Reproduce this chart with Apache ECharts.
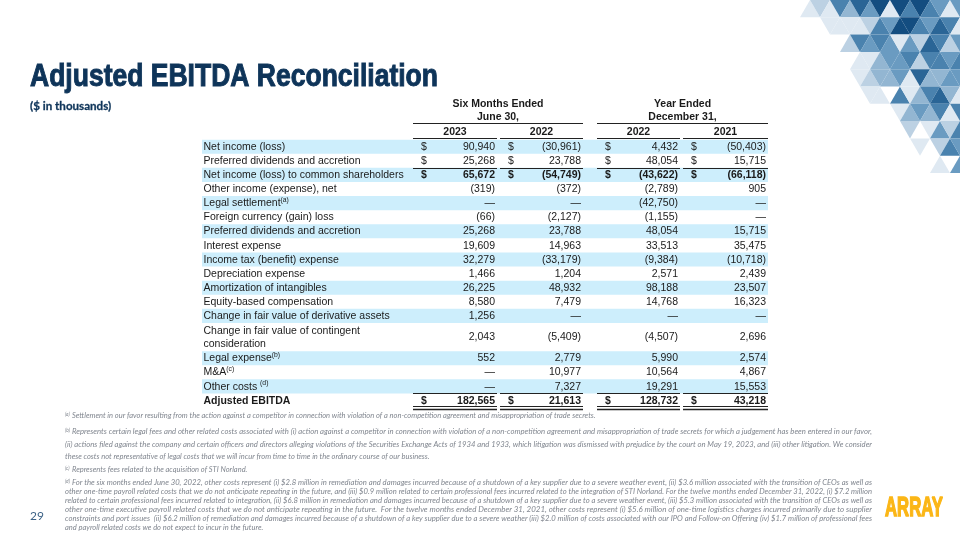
<!DOCTYPE html>
<html><head><meta charset="utf-8">
<script src="https://cdn.jsdelivr.net/npm/echarts@6/dist/echarts.min.js"></script>
<style>html,body{margin:0;padding:0;background:#fff}#c{width:960px;height:540px}</style>
</head><body><div id="c"></div>
<script>
// ---------------- DATA ----------------
const rowLabels = [
  'Net income (loss)',
  'Preferred dividends and accretion',
  'Net income (loss) to common shareholders',
  'Other income (expense), net',
  'Legal settlement',
  'Foreign currency (gain) loss',
  'Preferred dividends and accretion',
  'Interest expense',
  'Income tax (benefit) expense',
  'Depreciation expense',
  'Amortization of intangibles',
  'Equity-based compensation',
  'Change in fair value of derivative assets',
  'Change in fair value of contingent\nconsideration',
  'Legal expense',
  'M&A',
  'Other costs ',
  'Adjusted EBITDA'
];
const rowNotes = [null, null, null, null, '(a)', null, null, null, null, null, null, null, null, null, '(b)', '(c)', '(d)', null];
const rowLines = [1,1,1,1,1,1,1,1,1,1,1,1,1,2,1,1,1,1];
const dollarRows = [0, 1, 2, 17];
const subtotalRows = [2];
const totalRows = [17];
const periodLabels = [['Six Months Ended', 'June 30,'], ['Year Ended', 'December 31,']];
const yearLabels = ['2023', '2022', '2022', '2021'];
const sixMonths2023 = [90940, 25268, 65672, -319, null, -66, 25268, 19609, 32279, 1466, 26225, 8580, 1256, 2043, 552, null, null, 182565];
const sixMonths2022 = [-30961, 23788, -54749, -372, null, -2127, 23788, 14963, -33179, 1204, 48932, 7479, null, -5409, 2779, 10977, 7327, 21613];
const year2022 = [4432, 48054, -43622, -2789, -42750, -1155, 48054, 33513, -9384, 2571, 98188, 14768, null, -4507, 5990, 10564, 19291, 128732];
const year2021 = [-50403, 15715, -66118, 905, null, null, 15715, 35475, -10718, 2439, 23507, 16323, null, 2696, 2574, 4867, 15553, 43218];
const valueColumns = [sixMonths2023, sixMonths2022, year2022, year2021];

const titleText = 'Adjusted EBITDA Reconciliation';
const subtitleText = '($ in thousands)';
const pageNumber = '29';
const logoText = 'ARRAY';
const footnotes = [
  { mark: '(a)', lines: ['Settlement in our favor resulting from the action against a competitor in connection with violation of a non-competition agreement and misappropriation of trade secrets.'] },
  { mark: '(b)', lines: [
    'Represents certain legal fees and other related costs associated with (i) action against a competitor in connection with violation of a non-competition agreement and misappropriation of trade secrets for which a judgement has been entered in our favor,',
    '(ii) actions filed against the company and certain officers and directors alleging violations of the Securities Exchange Acts of 1934 and 1933, which litigation was dismissed with prejudice by the court on May 19, 2023, and (iii) other litigation. We consider',
    'these costs not representative of legal costs that we will incur from time to time in the ordinary course of our business.'] },
  { mark: '(c)', lines: ['Represents fees related to the acquisition of STI Norland.'] },
  { mark: '(d)', lines: [
    'For the six months ended June 30, 2022, other costs represent (i) $2.8 million in remediation and damages incurred because of a shutdown of a key supplier due to a severe weather event, (ii) $3.6 million associated with the transition of CEOs as well as',
    'other one-time payroll related costs that we do not anticipate repeating in the future, and (iii) $0.9 million related to certain professional fees incurred related to the integration of STI Norland. For the twelve months ended December 31, 2022, (i) $7.2 million',
    'related to certain professional fees incurred related to integration, (ii) $6.8 million in remediation and damages incurred because of a shutdown of a key supplier due to a severe weather event, (iii) $5.3 million associated with the transition of CEOs as well as',
    'other one-time executive payroll related costs that we do not anticipate repeating in the future.  For the twelve months ended December 31, 2021, other costs represent (i) $5.6 million of one-time logistics charges incurred primarily due to supplier',
    'constraints and port issues  (ii) $6.2 million of remediation and damages incurred because of a shutdown of a key supplier due to a severe weather (iii) $2.0 million of costs associated with our IPO and Follow-on Offering (iv) $1.7 million of professional fees',
    'and payroll related costs we do not expect to incur in the future.'] }
];

// ---------------- LAYOUT / STYLE ----------------
const FONT = '"Liberation Sans", Arial, sans-serif';
const NOTEFONT = 'Lato, "Open Sans", sans-serif';
const NAVY = '#0e3459';
const TXT = '#1a1a1a';
const BAND = '#cdeefc';
const FS = 10.5;
const colBounds = [[211, 295], [298, 381], [395, 478], [481, 566]]; // x-axis units
const footY = [416, 432, 444.5, 457, 470, 483, 492, 501, 510, 519, 528];
const footX = 65, footTextX = 72, footRight = 872;
const NOTESIZE = 7.5;

const starts = []; let acc = 0;
rowLines.forEach(n => { starts.push(acc); acc += n; });
const totalUnits = acc;

function fmt(v) {
  if (v == null) return '\u2014';
  const s = Math.abs(v).toLocaleString('en-US');
  return v < 0 ? '(' + s + ')' : s;
}

const chart = echarts.init(document.getElementById('c'), null, { renderer: 'canvas' });

function renderRow(params, api) {
  const i = params.dataIndex;
  const u0 = starts[i], n = rowLines[i];
  const top = api.coord([0, u0 - 0.5])[1];
  const bot = api.coord([0, u0 + n - 0.5])[1];
  const cy = (top + bot) / 2;
  const x0 = api.coord([0, 0])[0];
  const x1 = api.coord([566, 0])[0];
  const ch = [];
  if (i % 2 === 0) {
    ch.push({ type: 'rect', shape: { x: x0, y: top, width: x1 - x0, height: bot - top }, style: { fill: BAND } });
  }
  const isTotal = totalRows.includes(i);
  const isBold = isTotal || subtotalRows.includes(i);
  const lbl = rowNotes[i] ? rowLabels[i] + '{sup|' + rowNotes[i] + '}' : rowLabels[i];
  ch.push({ type: 'text', style: {
    x: x0 + 1.5, y: cy + 0.3, text: lbl, fill: TXT, fontFamily: FONT, fontSize: FS,
    fontWeight: isTotal ? 'bold' : 'normal', lineHeight: 13.3,
    align: 'left', verticalAlign: 'middle',
    rich: { sup: { fontSize: 6.8, fontFamily: FONT, fill: TXT, verticalAlign: 'top', lineHeight: 13.3, padding: [0, 0, 5, 0] } }
  } });
  valueColumns.forEach((col, c) => {
    const xr = api.coord([colBounds[c][1] - 2, 0])[0];
    ch.push({ type: 'text', style: {
      x: xr, y: cy + 0.3, text: fmt(col[i]), fill: TXT, fontFamily: FONT, fontSize: FS,
      fontWeight: isBold ? 'bold' : 'normal', align: 'right', verticalAlign: 'middle'
    } });
    if (dollarRows.includes(i)) {
      const xl = api.coord([colBounds[c][0] + 8, 0])[0];
      ch.push({ type: 'text', style: {
        x: xl, y: cy + 0.3, text: '$', fill: TXT, fontFamily: FONT, fontSize: FS,
        fontWeight: isBold ? 'bold' : 'normal', align: 'left', verticalAlign: 'middle'
      } });
    }
    const xa = api.coord([colBounds[c][0], 0])[0];
    const xb = api.coord([colBounds[c][1], 0])[0];
    if (isBold) {
      const yy = Math.round(top) + 0.5;
      ch.push({ type: 'line', shape: { x1: xa, y1: yy, x2: xb, y2: yy }, style: { stroke: '#222', lineWidth: 1 } });
    }
    if (isTotal) {
      const y1 = Math.round(bot) - 1.5, y2 = Math.round(bot) + 1.5;
      ch.push({ type: 'line', shape: { x1: xa, y1: y1, x2: xb, y2: y1 }, style: { stroke: '#222', lineWidth: 1.2 } });
      ch.push({ type: 'line', shape: { x1: xa, y1: y2, x2: xb, y2: y2 }, style: { stroke: '#222', lineWidth: 1.6 } });
    }
  });
  return { type: 'group', children: ch };
}

function renderYear(params, api) {
  const c = params.dataIndex;
  const xa = api.coord([colBounds[c][0], 0])[0];
  const xb = api.coord([colBounds[c][1], 0])[0];
  const cy = api.coord([0, -1.02])[1];
  const ly = Math.round(api.coord([0, -0.62])[1]) + 0.5;
  return { type: 'group', children: [
    { type: 'text', style: { x: (xa + xb) / 2, y: cy, text: yearLabels[c], fill: TXT, fontFamily: FONT, fontSize: FS, fontWeight: 'bold', align: 'center', verticalAlign: 'middle' } },
    { type: 'line', shape: { x1: xa, y1: ly, x2: xb, y2: ly }, style: { stroke: '#222', lineWidth: 1 } }
  ] };
}

function renderPeriod(params, api) {
  const g = params.dataIndex;
  const xa = api.coord([colBounds[2 * g][0], 0])[0];
  const xb = api.coord([colBounds[2 * g + 1][1], 0])[0];
  const y1 = api.coord([0, -3.03])[1];
  const y2 = api.coord([0, -2.13])[1];
  const ly = Math.round(api.coord([0, -1.66])[1]) + 0.5;
  return { type: 'group', children: [
    { type: 'text', style: { x: (xa + xb) / 2, y: y1, text: periodLabels[g][0], fill: TXT, fontFamily: FONT, fontSize: FS, fontWeight: 'bold', align: 'center', verticalAlign: 'middle' } },
    { type: 'text', style: { x: (xa + xb) / 2, y: y2, text: periodLabels[g][1], fill: TXT, fontFamily: FONT, fontSize: FS, fontWeight: 'bold', align: 'center', verticalAlign: 'middle' } },
    { type: 'line', shape: { x1: xa, y1: ly, x2: xb, y2: ly }, style: { stroke: '#222', lineWidth: 1 } }
  ] };
}

// text measurement for condensed title / justified notes
const mctx = document.createElement('canvas').getContext('2d');
function measure(font, text) { mctx.font = font; return mctx.measureText(text).width; }

const graphics = [];
// decorative triangle mosaic (top-right)
const TW = 20, TH = 17.3;
const shades = ['#dfe9f2', '#bcd1e3', '#93b6d2', '#6a9bc1', '#4a82ae', '#2a6596', '#134d80'];
for (let r = 0; r < 11; r++) {
  for (let k = 0; k < 22; k++) {
    const xs = 760 + k * TW / 2;
    const ya = r * TH, yb = ya + TH;
    const up = (k + r) % 2 === 0;
    const pts = up ? [[xs, yb], [xs + TW / 2, ya], [xs + TW, yb]] : [[xs, ya], [xs + TW, ya], [xs + TW / 2, yb]];
    const cx = xs + TW / 2, cyy = (ya + yb) / 2;
    const d = cx - (805 + 0.9 * cyy);
    const h = ((r * 37 + k * 53 + (r * k) % 7 * 11) % 100);
    let fill = null;
    if (d < -22) continue;
    if (d < 0) { if (h < 40) fill = shades[h % 2]; }
    else {
      const base = Math.min(1, d / 70);
      let idx = Math.floor((h / 100) * 4 + base * 3);
      if (h % 9 === 0) idx = 0;
      if (h % 13 === 0) idx = 1;
      fill = shades[Math.max(0, Math.min(6, idx))];
    }
    if (fill) graphics.push({ type: 'polygon', silent: true, shape: { points: pts }, style: { fill: fill } });
  }
}
// title
const titleFont = 'bold 31px "Liberation Sans"';
const tScale = 408 / measure(titleFont, titleText);
graphics.push({ type: 'text', x: 30, y: 77.4, scaleX: tScale, style: { x: 0, y: 0, text: titleText, fill: NAVY, stroke: NAVY, lineWidth: 1, fontFamily: FONT, fontSize: 31, fontWeight: 'bold', align: 'left', verticalAlign: 'middle' } });
graphics.push({ type: 'text', x: 30, y: 106, style: { text: subtitleText, fill: NAVY, stroke: NAVY, lineWidth: 0.3, fontFamily: NOTEFONT, fontSize: 11.6, fontWeight: 'bold', align: 'left', verticalAlign: 'middle' } });
// footnotes
let li = 0;
footnotes.forEach(fn => {
  fn.lines.forEach((line, j) => {
    const y = footY[li++];
    const sx = j === 0 ? footTextX : footX;
    if (j === 0) {
      graphics.push({ type: 'text', x: footX, y: y - 1.5, style: { text: fn.mark, fill: '#80868f', fontFamily: NOTEFONT, fontSize: 4.8, fontStyle: 'italic', align: 'left', verticalAlign: 'middle' } });
    }
    const justify = j < fn.lines.length - 1;
    let scale = 1;
    if (justify) scale = (footRight - sx) / measure('italic ' + NOTESIZE + 'px Lato', line);
    graphics.push({ type: 'text', x: sx, y: y, scaleX: scale, style: { x: 0, y: 0, text: line, fill: '#80868f', fontFamily: NOTEFONT, fontSize: NOTESIZE, fontStyle: 'italic', align: 'left', verticalAlign: 'middle' } });
  });
});
graphics.push({ type: 'text', x: 30, y: 516, style: { text: pageNumber, fill: '#3c6286', fontFamily: NOTEFONT, fontSize: 12, align: 'left', verticalAlign: 'middle' } });
const logoFont = 'bold 28px "Liberation Sans"';
const lScale = 58 / measure(logoFont, logoText);
graphics.push({ type: 'text', x: 885, y: 508.3, scaleX: lScale, style: { x: 0, y: 0, text: logoText, fill: '#fbb616', stroke: '#fbb616', lineWidth: 1.6, fontFamily: FONT, fontSize: 28, fontWeight: 'bold', align: 'left', verticalAlign: 'middle' } });

chart.setOption({
  animation: false,
  backgroundColor: '#ffffff',
  grid: { left: 202, width: 566, top: 97.35, height: 310.2 },
  xAxis: { type: 'value', min: 0, max: 566, show: false },
  yAxis: { type: 'value', inverse: true, min: -3.5, max: totalUnits - 0.5, show: false },
  graphic: graphics,
  series: [
    { type: 'custom', clip: false, silent: true, renderItem: renderRow, data: rowLabels.map((l, i) => [0, starts[i]]) },
    { type: 'custom', clip: false, silent: true, renderItem: renderYear, data: yearLabels.map((y, c) => [c, -1]) },
    { type: 'custom', clip: false, silent: true, renderItem: renderPeriod, data: periodLabels.map((p, g) => [g, -3]) }
  ]
});
</script></body></html>
